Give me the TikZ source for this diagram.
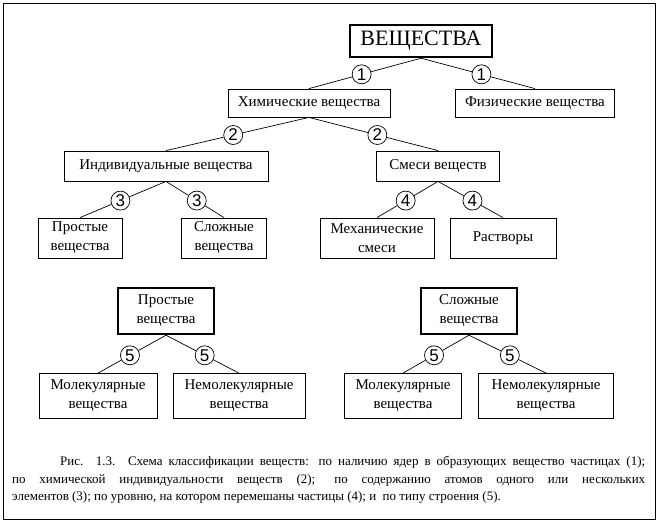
\documentclass[tikz,border=0pt]{standalone}
\usepackage{fontspec}
\setmainfont{Liberation Serif}
\newfontfamily\numfont{Liberation Sans}
\usetikzlibrary{calc}
\tikzset{
  box/.style={draw, line width=0.8pt, align=center, inner sep=2pt, font=\fontsize{15}{19}\selectfont},
  mainbox/.style={box, line width=2.4pt},
  num/.style={draw, circle, fill=white, line width=0.7pt, minimum size=19pt, inner sep=0pt, font=\numfont\fontsize{17}{17}\selectfont},
  link/.style={line width=0.7pt},
}

\begin{document}
\begin{tikzpicture}[x=1pt, y=-1pt]
        \useasboundingbox (0,0) rectangle (660,523);
        \draw[line width=0.8pt] (3,3) rectangle (655,519);

        % upper tree
        \node[mainbox, minimum width=142, minimum height=32, font=\fontsize{22}{22}\selectfont] (sub) at (421,41) {ВЕЩЕСТВА};
        \node[box, minimum width=162, minimum height=28] (chem) at (309,103) {Химические вещества};
        \node[box, minimum width=159, minimum height=28] (phys) at (535,103) {Физические вещества};
        \node[box, minimum width=204, minimum height=30] (indiv) at (166,166) {Индивидуальные вещества};
        \node[box, minimum width=123, minimum height=30] (mix) at (438,166) {Смеси веществ};
        \node[box, minimum width=84, minimum height=40] (simple) at (80,238) {Простые\\вещества};
        \node[box, minimum width=85, minimum height=40] (compl) at (224,238) {Сложные\\вещества};
        \node[box, minimum width=114, minimum height=40] (mech) at (377,238) {Механические\\смеси};
        \node[box, minimum width=106, minimum height=40] (sol) at (503,238) {Растворы};

        % lower trees
        \node[mainbox, minimum width=96, minimum height=46] (simpleb) at (166,311) {Простые\\вещества};
        \node[mainbox, minimum width=96, minimum height=46] (complb) at (469,311) {Сложные\\вещества};
        \node[box, minimum width=118, minimum height=45] (molA) at (98,396) {Молекулярные\\вещества};
        \node[box, minimum width=132, minimum height=45] (nonmolA) at (239,396) {Немолекулярные\\вещества};
        \node[box, minimum width=117, minimum height=45] (molB) at (403,396) {Молекулярные\\вещества};
        \node[box, minimum width=135, minimum height=45] (nonmolB) at (546,396) {Немолекулярные\\вещества};

        % connectors with numbered circles
        \foreach \pa/\ch/\n in {sub/chem/1, sub/phys/1, chem/indiv/2, chem/mix/2,
                                indiv/simple/3, indiv/compl/3, mix/mech/4, mix/sol/4,
                                simpleb/molA/5, simpleb/nonmolA/5, complb/molB/5, complb/nonmolB/5}{
            \node[num] (c-\pa-\ch) at ($(\pa.south)!0.53!(\ch.north)$) {\n};
            \draw[link] (\pa.south) -- (c-\pa-\ch) -- (\ch.north);
        }

        \node[anchor=north west, inner sep=0pt, text width=633pt, align=justify, font=\fontsize{13}{17.5}\selectfont] (capt) at (12,456)
            {\hspace*{48pt}Рис. 1.3. Схема классификации веществ: по наличию ядер в образующих вещество частицах (1);\linebreak
             по химической индивидуальности веществ (2); по содержанию атомов одного или нескольких\linebreak
             элементов (3); по уровню, на котором перемешаны частицы (4); и \ по типу строения (5).};
\end{tikzpicture}
\end{document}
